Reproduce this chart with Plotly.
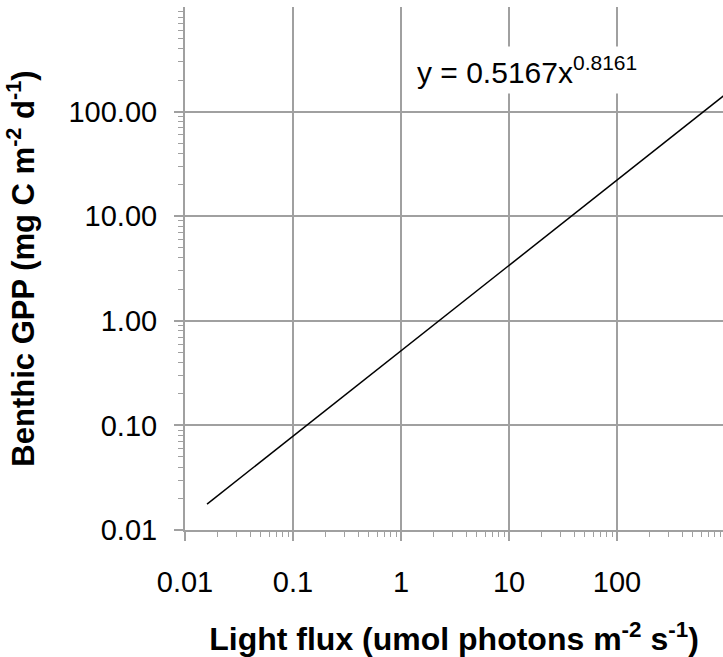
import plotly.graph_objects as go

# Power-law fit: GPP = a * light^b
coef_a = 0.5167
coef_b = 0.8161
fit_x = [0.016, 1000.0]
fit_y = [coef_a * x ** coef_b for x in fit_x]

x_tickvals = [0.01, 0.1, 1, 10, 100]
x_ticktext = ["0.01", "0.1", "1", "10", "100"]
y_tickvals = [0.01, 0.1, 1, 10, 100]
y_ticktext = ["0.01", "0.10", "1.00", "10.00", "100.00"]

minor_vals = [m * 10.0 ** k for k in range(-2, 3) for m in range(2, 10)]

FONT = "Arial, Liberation Sans, sans-serif"
GRID = "#a0a0a0"

fig = go.Figure()
fig.add_trace(go.Scatter(x=fit_x, y=fit_y, mode="lines",
                         line=dict(color="black", width=1.5),
                         showlegend=False, hoverinfo="skip"))

axis_common = dict(
    type="log", showgrid=True, gridcolor=GRID, gridwidth=1.6,
    showline=True, linecolor=GRID, linewidth=2,
    ticks="outside", ticklen=9, tickcolor=GRID, tickwidth=1.6,
    tickfont=dict(family=FONT, size=29, color="black"),
    zeroline=False,
    minor=dict(tickvals=minor_vals, ticks="outside", ticklen=5,
               tickcolor=GRID, tickwidth=1.3, showgrid=False),
)

fig.update_xaxes(**axis_common, range=[-2, 2.981],
                 tickvals=x_tickvals, ticktext=x_ticktext,
                 ticklabelstandoff=16,
                 title=dict(text="<b>Light flux (umol photons m<sup>-2</sup> s<sup>-1</sup>)</b>",
                            font=dict(family=FONT, size=32, color="black"),
                            standoff=34))
fig.update_yaxes(**axis_common, range=[-2, 3],
                 tickvals=y_tickvals, ticktext=y_ticktext,
                 ticklabelstandoff=11,
                 title=dict(text="<b>Benthic GPP (mg C m<sup>-2</sup> d<sup>-1</sup>)</b>",
                            font=dict(family=FONT, size=31, color="black"),
                            standoff=25))

fig.add_annotation(xref="paper", yref="paper", x=0.636, y=0.879,
                   xanchor="center", yanchor="middle",
                   text="y = 0.5167x<sup>0.8161</sup>", showarrow=False,
                   font=dict(family=FONT, size=30, color="black"),
                   bgcolor="white", borderpad=4)

fig.update_layout(width=723, height=657,
                  margin=dict(l=185, r=0, t=7, b=127),
                  paper_bgcolor="white", plot_bgcolor="white")

fig.write_html("out.html")
